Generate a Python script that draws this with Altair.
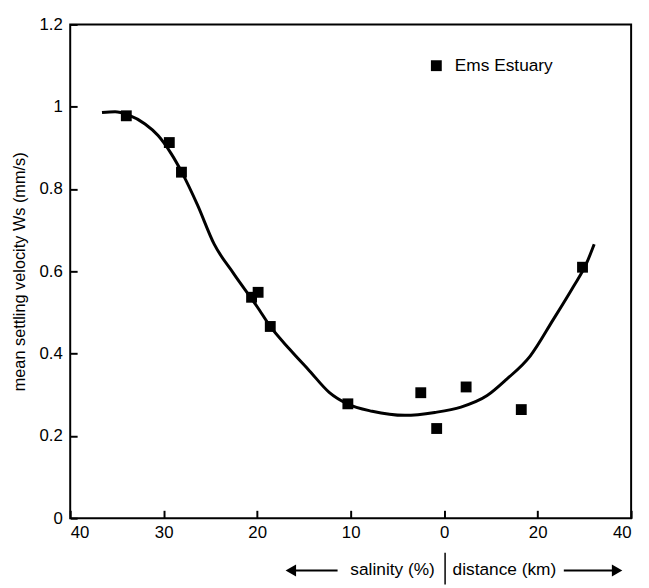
import altair as alt
import pandas as pd

# ---- data ----
# salinity side (left part of the x axis, salinity in %)
sal_s = [34.0, 29.4, 28.1, 20.6, 19.9, 18.6, 10.3, 2.5, 0.8]
sal_w = [0.978, 0.913, 0.841, 0.537, 0.549, 0.466, 0.278, 0.305, 0.218]
# distance side (right part of the x axis, distance in km)
dist_km = [4.7, 16.5, 29.6]
dist_w = [0.319, 0.264, 0.610]

# fitted curve, position on the axis (salinity shown as negative, distance/2 as positive)
curve_pos = [-36.6, -35.2, -33.8, -32.0, -30.6, -29.2, -28.0, -26.4, -24.6, -22.5,
             -20.0, -18.6, -16.5, -14.4, -12.3, -10.35, -7.7, -4.2, -1.0, 1.8,
             4.6, 6.7, 9.2, 11.65, 13.8, 15.2, 16.05]
curve_w = [0.986, 0.988, 0.980, 0.958, 0.930, 0.886, 0.838, 0.762, 0.666, 0.594,
           0.514, 0.466, 0.410, 0.358, 0.306, 0.278, 0.260, 0.250, 0.257, 0.270,
           0.298, 0.338, 0.394, 0.482, 0.562, 0.618, 0.666]

x_tick_values = [-40, -30, -20, -10, 0, 10, 20]
y_tick_values = [0, 0.2, 0.4, 0.6, 0.8, 1.0, 1.2]

series_name = "Ems Estuary"
y_title = "mean settling velocity  Ws (mm/s)"
sal_label = "salinity (%)"
dist_label = "distance (km)"

W, H = 568, 500
FONT = "Liberation Sans"
FS = 17

pts = pd.DataFrame({
    "pos": [-s for s in sal_s] + [d / 2 for d in dist_km],
    "w": sal_w + dist_w,
    "series": series_name,
})
curve = pd.DataFrame({"pos": curve_pos, "w": curve_w})

xscale = alt.Scale(domain=[-40, 20], nice=False, zero=False)
yscale = alt.Scale(domain=[0, 1.2], nice=False)

# axes are pulled inside the frame by the tick length, so the ticks point inwards
xaxis = alt.Axis(values=x_tick_values,
                 labelExpr="datum.value < 0 ? '' + (-datum.value) : '' + (datum.value * 2)",
                 offset=-8, ticks=True, tickSize=8, tickWidth=2, tickColor="black",
                 domain=False, grid=False, labelPadding=7,
                 labelFont=FONT, labelFontSize=FS, labelColor="black", title=None)
yaxis = alt.Axis(values=y_tick_values, format="~g",
                 offset=-7, ticks=True, tickSize=7, tickWidth=2, tickColor="black",
                 domain=False, grid=False, labelPadding=8, labelFont=FONT, labelFontSize=FS,
                 labelColor="black", title=y_title, titleFont=FONT, titleFontSize=16.5,
                 titleFontWeight="normal", titleColor="black", titlePadding=12)

line = alt.Chart(curve).mark_line(color="black", strokeWidth=3, interpolate="monotone").encode(
    x=alt.X("pos:Q", scale=xscale, axis=xaxis),
    y=alt.Y("w:Q", scale=yscale, axis=yaxis),
)

points = alt.Chart(pts).mark_point(shape="square", filled=True, size=121, opacity=1).encode(
    x=alt.X("pos:Q", scale=xscale),
    y=alt.Y("w:Q", scale=yscale),
    color=alt.Color("series:N", scale=alt.Scale(range=["black"]),
                    legend=alt.Legend(orient="none", legendX=362, legendY=33, title=None,
                                      symbolType="square", symbolSize=121, symbolFillColor="black",
                                      symbolStrokeWidth=0, labelFont=FONT, labelFontSize=17.5,
                                      labelColor="black", labelOffset=10, padding=0)),
)

# bottom annotation: arrows, labels, divider
ann_y = H + 53
shafts = alt.Chart(pd.DataFrame({"a": [-16.0, 12.8], "b": [-11.4, 18.4]})).mark_rule(
    color="black", strokeWidth=2).encode(
    x=alt.X("a:Q", scale=xscale), x2="b:Q", y=alt.value(ann_y))
heads = alt.Chart(pd.DataFrame({"a": [-16.4, 18.5], "shape": ["triangle-left", "triangle-right"]})).mark_point(
    filled=True, size=150, color="black", opacity=1).encode(
    x=alt.X("a:Q", scale=xscale), y=alt.value(ann_y),
    shape=alt.Shape("shape:N", scale=None, legend=None))
lab_l = alt.Chart(pd.DataFrame({"a": [-1.0], "t": [sal_label]})).mark_text(
    align="right", baseline="middle", font=FONT, fontSize=17.5, color="black").encode(
    x=alt.X("a:Q", scale=xscale), y=alt.value(ann_y), text="t:N")
lab_r = alt.Chart(pd.DataFrame({"a": [0.9], "t": [dist_label]})).mark_text(
    align="left", baseline="middle", font=FONT, fontSize=17.5, color="black").encode(
    x=alt.X("a:Q", scale=xscale), y=alt.value(ann_y), text="t:N")
divider = alt.Chart(pd.DataFrame({"a": [0.1]})).mark_rule(color="black", strokeWidth=1.5).encode(
    x=alt.X("a:Q", scale=xscale), y=alt.value(H + 35), y2=alt.value(H + 67))

chart = alt.layer(line, points, shafts, heads, lab_l, lab_r, divider).properties(
    width=W, height=H,
    autosize=alt.AutoSizeParams(type="none"),
    padding={"left": 63, "top": 13, "right": 10, "bottom": 67},
).configure(background="white").configure_view(stroke="black", strokeWidth=2)

chart.save("out.html", embed_options={"renderer": "svg", "actions": False})
